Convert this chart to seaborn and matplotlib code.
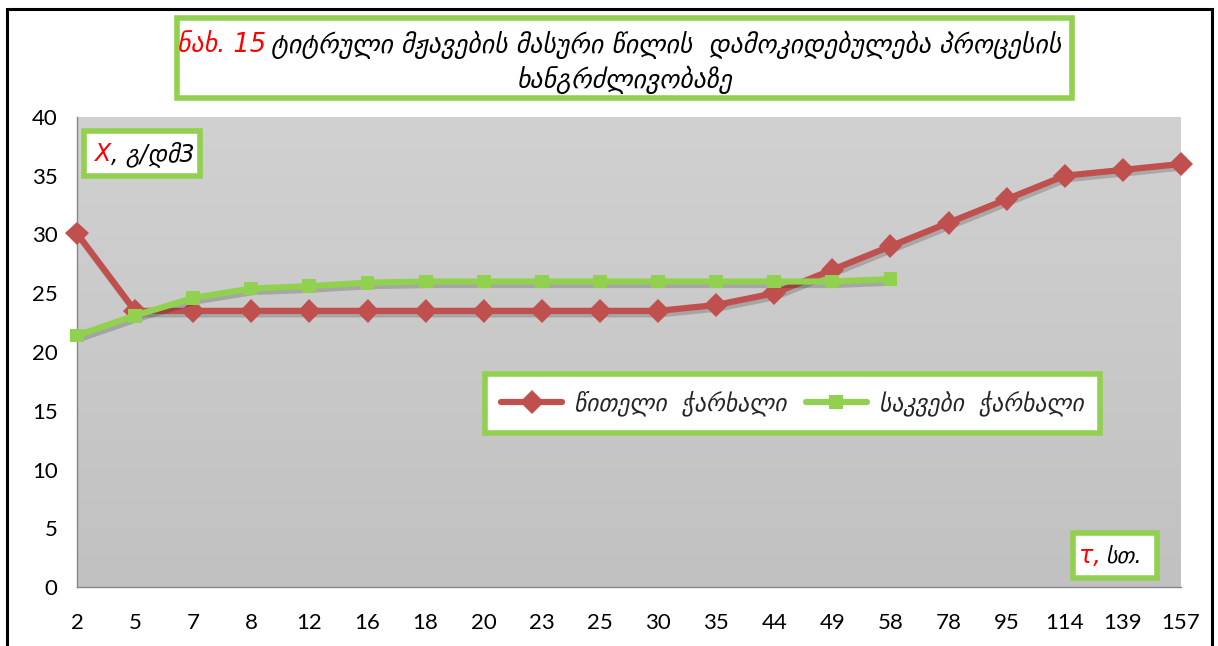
import numpy as np
import pandas as pd
import seaborn as sns
import matplotlib.pyplot as plt
import matplotlib.patheffects as pe
from matplotlib.lines import Line2D
from matplotlib.patches import Rectangle
from matplotlib.colors import LinearSegmentedColormap

sns.set_theme(style='white')
plt.rcParams['font.family'] = ['DejaVu Sans']

# data
t_labels = ['2', '5', '7', '8', '12', '16', '18', '20', '23', '25',
            '30', '35', '44', '49', '58', '78', '95', '114', '139', '157']
red_beet = [30.1, 23.5, 23.5, 23.5, 23.5, 23.5, 23.5, 23.5, 23.5, 23.5,
            23.5, 24.0, 25.0, 27.0, 29.0, 31.0, 33.0, 35.0, 35.5, 36.0]
fodder_beet = [21.4, 23.1, 24.6, 25.4, 25.6, 25.9, 26.0, 26.0, 26.0, 26.0,
               26.0, 26.0, 26.0, 26.0, 26.2]

red_name = 'წითელი  ჭარხალი'
green_name = 'საკვები  ჭარხალი'
title_red = 'ნახ. 15'
title_line1 = 'ტიტრული მჟავების მასური წილის  დამოკიდებულება პროცესის'
title_line2 = 'ხანგრძლივობაზე'

RED = '#c0504d'
GREEN = '#92d050'

df_red = pd.DataFrame({'t': t_labels, 'x': red_beet})
df_green = pd.DataFrame({'t': t_labels[:len(fodder_beet)], 'x': fodder_beet})

fig = plt.figure(figsize=(12.18, 6.46), dpi=100)
ax = fig.add_axes([0.0632, 0.0913, 0.9064, 0.7276])

# gray gradient plot area
grad = np.linspace(0, 1, 256).reshape(-1, 1)
ax.imshow(grad, extent=(0, 1, 0, 1), transform=ax.transAxes, aspect='auto',
          cmap=LinearSegmentedColormap.from_list('g', ['#d1d1d1', '#c1c1c1']),
          zorder=0)

shadow = [pe.SimpleLineShadow(offset=(1.5, -2.5), alpha=0.18, shadow_color='black'),
          pe.Normal()]

sns.lineplot(data=df_red, x='t', y='x', ax=ax, color=RED, lw=4.5,
             marker='D', markersize=12, markeredgewidth=0, sort=False,
             path_effects=shadow, zorder=3, clip_on=False)
sns.lineplot(data=df_green, x='t', y='x', ax=ax, color=GREEN, lw=4.5,
             marker='s', markersize=10, markeredgewidth=0, sort=False,
             path_effects=shadow, zorder=4, clip_on=False)

ax.set_xlim(0, len(t_labels) - 1)
ax.set_ylim(0, 40)
ax.set_yticks(range(0, 41, 5))
ax.set_xlabel('')
ax.set_ylabel('')
for s in ['top', 'right']:
    ax.spines[s].set_visible(False)
for s in ['left', 'bottom']:
    ax.spines[s].set_color('#868686')
    ax.spines[s].set_linewidth(1)
ax.tick_params(axis='both', which='both', direction='out', length=6,
               color='#868686', labelsize=16, labelcolor='black', pad=8)
ax.tick_params(axis='x', pad=13)
for lab in ax.get_xticklabels() + ax.get_yticklabels():
    lab.set_family(['Lato', 'DejaVu Sans'])

# legend
handles = [Line2D([], [], color=RED, lw=4.5, marker='D', markersize=12, markeredgewidth=0),
           Line2D([], [], color=GREEN, lw=4.5, marker='s', markersize=10, markeredgewidth=0)]
leg = ax.legend(handles, [red_name, green_name], loc='center', bbox_to_anchor=(0.648, 0.391),
                ncol=2, frameon=True, fancybox=False, framealpha=1, handlelength=2.6,
                columnspacing=0.8, handletextpad=0.5, borderpad=0.7,
                prop={'size': 17, 'style': 'italic'})
leg.get_frame().set_edgecolor(GREEN)
leg.get_frame().set_linewidth(4)
leg.get_frame().set_facecolor('white')
leg.set_zorder(6)

# y-axis label box
ax.add_patch(Rectangle((0.006, 0.874), 0.105, 0.096, transform=ax.transAxes,
                       facecolor='white', edgecolor=GREEN, lw=4, zorder=5))
ax.text(0.015, 0.922, 'X', color='red', fontsize=17, style='italic',
        transform=ax.transAxes, va='center', ha='left', zorder=6)
ax.text(0.031, 0.922, ', გ/დმ3', color='black', fontsize=17, style='italic',
        transform=ax.transAxes, va='center', ha='left', zorder=6)

# x-axis label box
ax.add_patch(Rectangle((0.902, 0.019), 0.076, 0.096, transform=ax.transAxes,
                       facecolor='white', edgecolor=GREEN, lw=4, zorder=5))
ax.text(0.908, 0.066, 'τ,', color='red', fontsize=17, style='italic',
        transform=ax.transAxes, va='center', ha='left', zorder=6)
ax.text(0.932, 0.066, 'სთ.', color='black', fontsize=16, style='italic',
        transform=ax.transAxes, va='center', ha='left', zorder=6)

# title box
fig.patches.append(Rectangle((177 / 1218, 1 - 98 / 646), 895 / 1218, 80 / 646,
                             transform=fig.transFigure, facecolor='white',
                             edgecolor=GREEN, lw=4, zorder=1))
fig.text(266 / 1218, 1 - 45 / 646, title_red, color='red', fontsize=18.5,
         style='italic', ha='right', va='center')
fig.text(271 / 1218, 1 - 45 / 646, title_line1, color='black', fontsize=18.5,
         style='italic', ha='left', va='center')
fig.text(625 / 1218, 1 - 80 / 646, title_line2, color='black', fontsize=18.5,
         style='italic', ha='center', va='center')

# outer frame
fig.patches.append(Rectangle((7 / 1218, -0.01), 1205 / 1218, 1 - 9 / 646 + 0.01,
                             transform=fig.transFigure, facecolor='none',
                             edgecolor='black', lw=2.2, zorder=0))

fig.savefig('out.png', dpi=100)
